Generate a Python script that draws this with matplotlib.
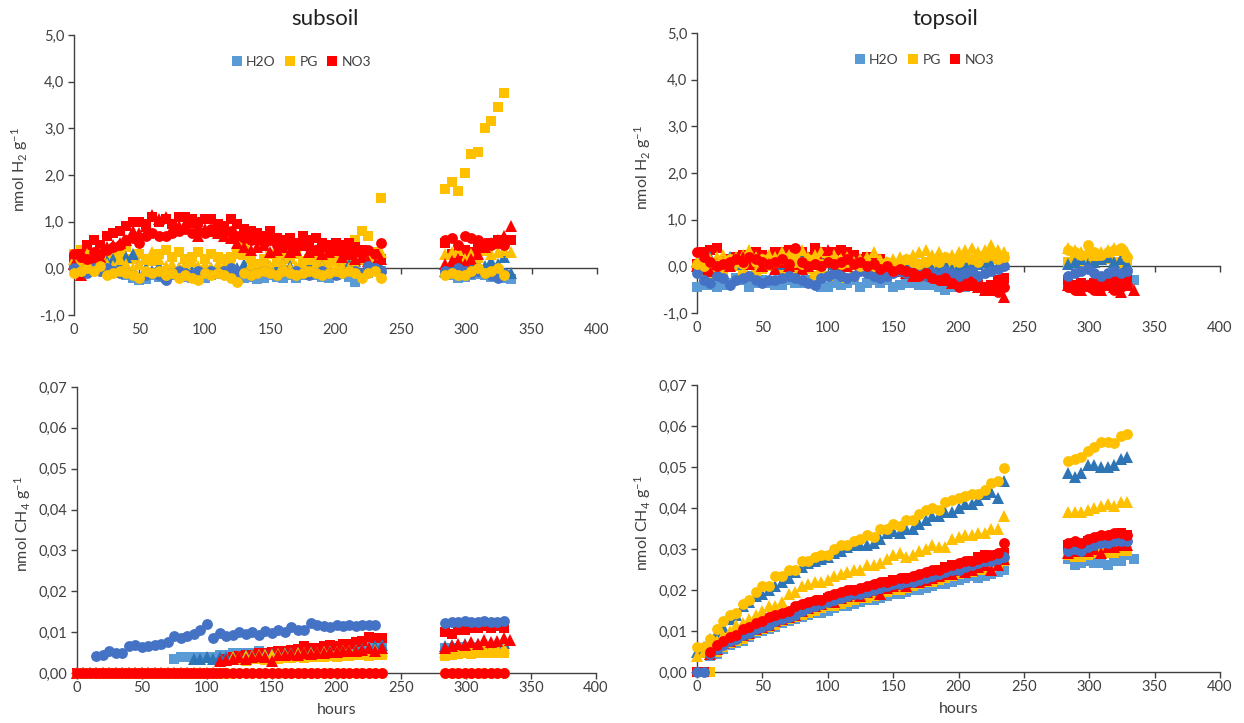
import numpy as np
import matplotlib.pyplot as plt
from matplotlib.ticker import FuncFormatter

N = None

# sampling times (h): first run 0-235 h, second run 284-334 h
hours = [0, 5, 10, 15, 20, 25, 30, 35, 40, 45, 50, 55,
         60, 65, 70, 75, 80, 85, 90, 95, 100, 105, 110, 115,
         120, 125, 130, 135, 140, 145, 150, 155, 160, 165, 170, 175,
         180, 185, 190, 195, 200, 205, 210, 215, 220, 225, 230, 235,
         284, 289, 294, 299, 304, 309, 314, 319, 324, 329, 334]

x_ticks = [0, 50, 100, 150, 200, 250, 300, 350, 400]
h2_ticks = [-1, 0, 1, 2, 3, 4, 5]
ch4_ticks = [0, 0.01, 0.02, 0.03, 0.04, 0.05, 0.06, 0.07]
treatments = ["H2O", "PG", "NO3"]

# ---- subsoil, H2 (nmol H2 g-1) ----
sub_h2_h2o_sq = [0.05, 0.0, -0.05, 0.0, 0.05, -0.05, -0.1, -0.1, -0.15, -0.2, -0.25, -0.22,
                 -0.15, -0.18, -0.2, -0.15, -0.12, -0.18, -0.2, -0.15, -0.2, -0.15, -0.1, -0.12,
                 -0.1, -0.15, -0.2, -0.18, -0.22, -0.2, -0.15, -0.18, -0.2, -0.15, -0.2, -0.15,
                 -0.12, -0.15, -0.18, -0.2, -0.15, -0.12, -0.18, -0.3, -0.15, -0.1, -0.05, -0.05,
                 -0.1, -0.15, -0.2, -0.18, -0.15, -0.12, -0.15, -0.18, -0.15, -0.2, -0.22]
sub_h2_pg_sq = [0.3, 0.4, 0.3, 0.2, 0.3, 0.35, 0.25, 0.3, 0.45, 0.2, 0.3, 0.2,
                0.15, 0.3, 0.4, 0.25, 0.35, 0.2, 0.25, 0.35, 0.2, 0.3, 0.25, 0.2,
                0.25, 0.3, 0.45, 0.2, 0.1, 0.2, 0.3, 0.15, 0.25, 0.2, 0.3, 0.15,
                0.2, 0.25, 0.1, 0.2, 0.15, 0.1, 0.2, 0.6, 0.8, 0.7, 0.35, 1.5,
                1.7, 1.85, 1.65, 2.05, 2.45, 2.5, 3.0, 3.15, 3.45, 3.75, N]
sub_h2_no3_sq = [0.2, 0.3, 0.5, 0.6, 0.5, 0.7, 0.75, 0.8, 0.9, 1.0, 1.0, 0.95,
                 1.1, 1.0, 1.05, 0.95, 1.1, 1.1, 1.05, 1.0, 1.05, 1.05, 0.95, 0.9,
                 1.05, 0.95, 0.85, 0.8, 0.75, 0.7, 0.8, 0.65, 0.6, 0.65, 0.55, 0.7,
                 0.6, 0.65, 0.55, 0.5, 0.55, 0.5, 0.55, 0.45, 0.4, 0.35, 0.3, 0.2,
                 0.55, 0.3, 0.25, 0.4, 0.35, 0.45, 0.5, 0.55, 0.6, 0.55, 0.6]
sub_h2_h2o_tri = [0.1, 0.0, 0.05, 0.0, 0.1, 0.15, 0.2, 0.1, 0.25, 0.3, 0.1, 0.0,
                  -0.05, 0.05, 0.0, -0.05, 0.0, 0.05, -0.05, 0.0, 0.05, 0.0, -0.05, 0.0,
                  0.05, 0.0, 0.1, 0.05, -0.05, 0.0, 0.05, 0.0, 0.1, 0.05, 0.0, 0.05,
                  0.1, 0.0, 0.05, 0.0, -0.05, 0.05, 0.1, 0.15, 0.2, 0.1, 0.05, 0.0,
                  -0.05, 0.0, 0.1, 0.05, 0.15, 0.1, 0.05, 0.15, 0.1, 0.25, -0.1]
sub_h2_pg_tri = [0.2, 0.1, 0.3, 0.25, 0.3, 0.1, 0.05, 0.2, 0.1, 0.0, 0.1, 0.2,
                 0.35, 0.2, 0.05, 0.1, 0.0, 0.1, 0.15, 0.05, 0.1, 0.0, 0.1, 0.05,
                 0.15, 0.5, 0.3, 0.1, 0.0, 0.1, 0.05, 0.15, 0.1, 0.0, 0.05, 0.1,
                 0.2, 0.1, 0.05, 0.1, 0.0, 0.05, 0.0, 0.1, 0.2, 0.25, 0.3, 0.35,
                 0.3, 0.35, 0.4, 0.2, 0.3, 0.25, 0.4, 0.3, 0.35, 0.4, 0.35]
sub_h2_no3_tri = [0.1, -0.15, 0.1, 0.2, 0.25, 0.45, 0.5, 0.55, 0.6, 0.8, 0.75, 0.9,
                  1.15, 1.05, 1.1, 0.85, 0.9, 0.95, 1.0, 0.7, 0.85, 0.8, 0.75, 0.7,
                  0.65, 0.55, 0.45, 0.4, 0.45, 0.5, 0.35, 0.4, 0.45, 0.35, 0.4, 0.5,
                  0.35, 0.4, 0.3, 0.35, 0.4, 0.25, 0.3, 0.2, 0.25, 0.15, 0.1, 0.2,
                  0.1, 0.15, 0.2, 0.1, 0.2, 0.3, 0.45, 0.55, 0.6, 0.7, 0.9]
sub_h2_h2o_circ = [0.0, -0.05, -0.1, 0.0, -0.05, 0.0, -0.05, -0.1, -0.1, -0.15, -0.2, -0.15,
                   -0.1, -0.15, -0.25, -0.1, -0.05, -0.1, -0.15, -0.05, -0.1, -0.05, -0.1, -0.05,
                   0.0, -0.05, -0.1, -0.15, -0.1, -0.05, -0.1, -0.15, -0.05, -0.1, -0.05, -0.1,
                   -0.15, -0.1, -0.05, -0.1, -0.15, -0.1, -0.05, -0.05, -0.1, 0.05, 0.0, -0.05,
                   -0.05, -0.1, 0.0, -0.05, -0.1, -0.05, -0.1, -0.15, -0.2, -0.1, N]
sub_h2_pg_circ = [-0.1, -0.05, 0.0, -0.05, 0.05, -0.15, -0.1, -0.05, -0.1, -0.15, -0.2, -0.05,
                  -0.1, -0.05, -0.15, -0.1, -0.2, -0.15, -0.2, -0.25, -0.1, -0.15, -0.1, -0.15,
                  -0.2, -0.3, -0.1, -0.15, -0.1, -0.05, -0.1, -0.15, -0.05, -0.1, -0.15, -0.1,
                  -0.05, -0.1, -0.15, -0.1, -0.05, -0.1, -0.05, -0.1, -0.2, -0.1, -0.05, -0.2,
                  -0.15, -0.1, -0.15, -0.15, -0.05, 0.0, -0.1, -0.05, 0.0, -0.15, N]
sub_h2_no3_circ = [0.3, 0.25, 0.2, 0.35, 0.3, 0.4, 0.45, 0.5, 0.6, 0.65, 0.55, 0.7,
                   0.75, 0.7, 0.7, 0.75, 0.8, 0.85, 0.75, 0.8, 0.75, 0.85, 0.8, 0.75,
                   0.8, 0.7, 0.65, 0.6, 0.6, 0.55, 0.6, 0.5, 0.55, 0.5, 0.45, 0.5,
                   0.45, 0.4, 0.45, 0.4, 0.45, 0.35, 0.4, 0.35, 0.3, 0.4, 0.3, 0.55,
                   0.6, 0.65, 0.5, 0.7, 0.65, 0.6, 0.55, 0.5, 0.55, 0.5, N]

# ---- topsoil, H2 ----
top_h2_h2o_sq = [-0.45, -0.4, -0.4, -0.45, -0.4, -0.35, -0.25, -0.3, -0.45, -0.35, -0.3, -0.35,
                 -0.4, -0.4, -0.3, -0.35, -0.35, -0.3, -0.35, -0.45, -0.45, -0.35, -0.4, -0.35,
                 -0.3, -0.45, -0.35, -0.3, -0.35, -0.3, -0.45, -0.4, -0.35, -0.35, -0.4, -0.4,
                 -0.4, -0.45, -0.5, -0.45, -0.4, -0.45, -0.4, -0.45, -0.5, -0.45, -0.4, -0.4,
                 -0.35, -0.4, -0.35, -0.4, -0.35, -0.4, -0.35, -0.3, -0.35, -0.3, -0.3]
top_h2_pg_sq = [0.0, -0.1, -0.2, -0.05, -0.1, 0.05, 0.0, -0.1, -0.2, -0.1, -0.05, 0.0,
                0.1, -0.05, -0.2, -0.1, 0.05, -0.05, -0.2, -0.15, -0.2, -0.1, -0.05, -0.25,
                -0.2, -0.05, 0.0, -0.1, 0.0, 0.05, 0.0, -0.05, 0.1, 0.05, 0.0, 0.1,
                0.15, 0.05, 0.1, 0.0, 0.05, 0.15, 0.1, 0.05, 0.1, 0.15, 0.2, 0.2,
                0.1, 0.2, 0.0, 0.15, 0.1, 0.2, 0.15, 0.1, 0.0, 0.1, N]
top_h2_no3_sq = [0.05, 0.3, 0.35, 0.4, 0.1, 0.15, 0.2, 0.25, 0.2, 0.3, 0.25, 0.2,
                 0.3, 0.3, 0.35, 0.25, 0.3, 0.2, 0.4, 0.3, 0.2, 0.3, 0.35, 0.3,
                 0.25, 0.15, 0.2, 0.1, 0.15, 0.05, 0.0, 0.05, -0.05, -0.1, -0.15, -0.1,
                 -0.2, -0.15, -0.25, -0.2, -0.3, -0.35, -0.3, -0.4, -0.45, -0.4, -0.3, -0.25,
                 -0.3, -0.4, -0.35, -0.45, -0.35, -0.3, -0.35, -0.3, -0.25, -0.25, N]
top_h2_h2o_tri = [0.1, 0.15, 0.2, 0.1, 0.15, 0.2, 0.1, 0.05, 0.1, 0.15, 0.0, 0.1,
                  0.15, 0.05, 0.1, 0.15, 0.2, 0.1, 0.15, 0.25, 0.1, 0.05, 0.0, 0.05,
                  0.1, 0.05, -0.05, 0.0, -0.05, -0.1, -0.05, 0.0, 0.05, 0.0, 0.05, 0.0,
                  -0.05, 0.0, 0.05, -0.05, 0.0, 0.05, 0.0, 0.05, 0.1, 0.05, 0.0, 0.05,
                  0.05, 0.1, 0.15, 0.05, 0.1, 0.15, 0.2, 0.1, 0.15, 0.05, N]
top_h2_pg_tri = [0.1, 0.05, 0.15, 0.2, 0.25, 0.15, 0.2, 0.25, 0.35, 0.2, 0.15, 0.25,
                 0.2, 0.3, 0.25, 0.3, 0.35, 0.2, 0.25, 0.3, 0.2, 0.25, 0.15, 0.2,
                 0.1, 0.15, 0.2, 0.3, 0.15, 0.1, 0.15, 0.2, 0.15, 0.25, 0.3, 0.35,
                 0.25, 0.3, 0.2, 0.25, 0.3, 0.35, 0.4, 0.3, 0.35, 0.45, 0.35, 0.3,
                 0.4, 0.35, 0.3, 0.35, 0.25, 0.3, 0.35, 0.4, 0.35, 0.3, N]
top_h2_no3_tri = [0.0, -0.05, -0.1, 0.05, 0.1, 0.0, 0.15, 0.2, 0.05, 0.1, 0.0, 0.05,
                  -0.05, 0.1, 0.0, 0.05, -0.05, 0.0, 0.05, 0.1, 0.35, 0.1, 0.05, 0.0,
                  0.05, 0.0, -0.05, 0.0, -0.05, -0.1, -0.05, -0.1, -0.15, -0.2, -0.1, -0.15,
                  -0.2, -0.25, -0.3, -0.35, -0.3, -0.35, -0.4, -0.45, -0.5, -0.5, -0.45, -0.65,
                  -0.4, -0.45, -0.5, -0.4, -0.45, -0.5, -0.4, -0.45, -0.55, -0.4, -0.5]
top_h2_h2o_circ = [-0.15, -0.3, -0.35, -0.2, -0.25, -0.4, -0.3, -0.25, -0.2, -0.3, -0.35, -0.3,
                   -0.3, -0.25, -0.2, -0.25, -0.3, -0.35, -0.4, -0.25, -0.2, -0.15, -0.2, -0.25,
                   -0.2, -0.1, -0.15, -0.2, -0.25, -0.2, -0.15, -0.1, -0.15, -0.1, -0.15, -0.2,
                   -0.15, -0.2, -0.1, -0.15, -0.2, -0.15, -0.1, -0.2, -0.15, -0.1, -0.05, 0.0,
                   -0.2, -0.15, -0.1, -0.05, -0.15, -0.2, -0.15, -0.1, -0.15, -0.1, N]
top_h2_pg_circ = [0.05, 0.0, 0.1, 0.05, 0.1, 0.15, 0.1, 0.05, 0.2, 0.1, 0.15, 0.05,
                  0.1, 0.15, 0.2, 0.1, 0.05, 0.15, 0.1, 0.05, 0.1, 0.15, 0.05, 0.1,
                  0.05, 0.0, 0.05, 0.0, 0.05, 0.1, 0.05, 0.1, 0.15, 0.1, 0.05, 0.1,
                  0.15, 0.1, 0.2, 0.15, 0.1, 0.2, 0.15, 0.1, 0.2, 0.25, 0.15, 0.2,
                  0.35, 0.3, 0.25, 0.45, 0.3, 0.25, 0.3, 0.35, 0.4, 0.2, N]
top_h2_no3_circ = [0.3, 0.2, 0.1, 0.0, 0.05, 0.1, 0.15, 0.1, 0.2, 0.15, 0.1, 0.05,
                   0.1, 0.15, 0.05, 0.4, 0.1, 0.0, 0.05, 0.0, 0.1, 0.05, 0.1, 0.15,
                   0.05, 0.1, 0.0, 0.05, -0.05, 0.0, -0.1, -0.05, -0.1, -0.15, -0.2, -0.15,
                   -0.25, -0.3, -0.25, -0.35, -0.45, -0.4, -0.35, -0.45, -0.5, -0.4, -0.55, -0.45,
                   -0.45, -0.5, -0.45, -0.4, -0.5, -0.45, -0.4, -0.5, -0.45, -0.4, N]

# ---- subsoil, CH4 (nmol CH4 g-1) ----
sub_ch4_h2o_sq = [0, 0, 0, 0, 0, 0, 0, 0, 0, 0, 0, 0,
                  0, 0, 0, 0.0035, 0.004, 0.004, 0.004, 0.0038, 0.0038, 0.004, 0.0045, 0.0045,
                  0.0048, 0.005, 0.005, 0.005, 0.0055, 0.005, 0.0052, 0.0054, 0.0055, 0.0056, 0.0055, 0.0058,
                  0.0058, 0.006, 0.0058, 0.006, 0.0062, 0.006, 0.0062, 0.0064, 0.0063, 0.0065, 0.0064, 0.0065,
                  0.006, 0.0062, 0.006, 0.0063, 0.0062, 0.0064, 0.0063, 0.0062, 0.0064, 0.0063, N]
sub_ch4_pg_sq = [0, 0, 0, 0, 0, 0, 0, 0, 0, 0, 0, 0,
                 0, 0, 0, 0, 0, 0, 0, 0, 0, 0, 0, 0.003,
                 0.0032, 0.0033, 0.003, 0.0034, 0.0035, 0.0033, 0.0036, 0.0035, 0.0037, 0.0036, 0.0038, 0.0037,
                 0.0038, 0.004, 0.0039, 0.0041, 0.004, 0.0042, 0.0041, 0.0043, 0.0044, 0.0042, 0.0045, 0.0044,
                 0.0042, 0.0045, 0.0047, 0.0048, 0.0046, 0.0048, 0.005, 0.0049, 0.005, 0.0048, N]
sub_ch4_no3_sq = [0, 0, 0, 0, 0, 0, 0, 0, 0, 0, 0, 0,
                  0, 0, 0, 0, 0, 0, 0, 0, 0, 0, 0, 0.0035,
                  0.004, 0.0042, 0.0045, 0.0045, 0.0048, 0.005, 0.0052, 0.0055, 0.0055, 0.0056, 0.0058, 0.0065,
                  0.006, 0.0062, 0.0065, 0.0068, 0.0065, 0.007, 0.0072, 0.0075, 0.0078, 0.0088, 0.0085, 0.0085,
                  0.01, 0.0095, 0.0105, 0.0105, 0.011, 0.011, 0.0115, 0.011, 0.0115, 0.011, N]
sub_ch4_h2o_tri = [0, 0, 0, 0, 0, 0, 0, 0, 0, 0, 0, 0,
                   0, 0, 0, 0, 0, 0, 0.0035, 0.0035, 0.004, 0.0035, 0.0038, 0.004,
                   0.0042, 0.004, 0.0044, 0.0045, 0.0044, 0.0046, 0.0047, 0.0046, 0.0048, 0.005, 0.0049, 0.005,
                   0.0051, 0.005, 0.0052, 0.0053, 0.0052, 0.0054, 0.0055, 0.0056, 0.0058, 0.0062, 0.0065, 0.0068,
                   0.0065, 0.0068, 0.0067, 0.007, 0.0072, 0.0071, 0.0073, 0.0072, 0.0074, 0.0073, N]
sub_ch4_pg_tri = [0, 0, 0, 0, 0, 0, 0, 0, 0, 0, 0, 0,
                  0, 0, 0, 0, 0, 0, 0, 0, 0, 0, 0, 0,
                  0.0038, 0.004, 0.0042, 0.0041, 0.0043, 0.0045, 0.0044, 0.0046, 0.0047, 0.0046, 0.0048, 0.0049,
                  0.005, 0.0049, 0.0051, 0.0052, 0.0051, 0.0053, 0.0054, 0.0053, 0.0055, 0.0054, 0.0056, 0.0055,
                  0.0052, 0.0055, 0.0056, 0.0058, 0.0057, 0.0059, 0.006, 0.0059, 0.0061, 0.006, N]
sub_ch4_no3_tri = [0, 0, 0, 0, 0, 0, 0, 0, 0, 0, 0, 0,
                   0, 0, 0, 0, 0, 0, 0, 0, 0, 0, 0.003, 0.0032,
                   0.0035, 0.0038, 0.0035, 0.004, 0.0042, 0.004, 0.003, 0.0045, 0.0043, 0.0046, 0.0045, 0.0048,
                   0.0047, 0.005, 0.0049, 0.0052, 0.0051, 0.0053, 0.0055, 0.0054, 0.0056, 0.006, 0.0055, 0.006,
                   0.006, 0.0065, 0.007, 0.0068, 0.0075, 0.007, 0.008, 0.0075, 0.0078, 0.0085, 0.008]
sub_ch4_h2o_circ = [0, 0, 0, 0.0042, 0.0045, 0.0055, 0.005, 0.005, 0.0067, 0.0068, 0.0063, 0.0066,
                    0.0068, 0.0072, 0.0075, 0.009, 0.0086, 0.009, 0.0096, 0.0105, 0.012, 0.0086, 0.0098, 0.009,
                    0.0094, 0.01, 0.0096, 0.01, 0.0093, 0.0102, 0.0098, 0.0105, 0.01, 0.0112, 0.0105, 0.0105,
                    0.0122, 0.0118, 0.0115, 0.0112, 0.0118, 0.0115, 0.0118, 0.0116, 0.0118, 0.0117, 0.0118, N,
                    0.0122, 0.0125, 0.0125, 0.0128, 0.0125, 0.0125, 0.0128, 0.0125, 0.0125, 0.0128, N]
sub_ch4_pg_circ = [0, 0, 0, 0, 0, 0, 0, 0, 0, 0, 0, 0,
                   0, 0, 0, 0, 0, 0, 0, 0, 0, 0, 0, 0,
                   0, 0, 0, 0, 0, 0, 0, 0, 0, 0, 0, 0,
                   0, 0, 0, 0, 0, 0, 0, 0, 0, 0, 0, 0,
                   0, 0, 0, 0, 0, 0, 0, 0, 0, 0, N]
sub_ch4_no3_circ = [0, 0, 0, 0, 0, 0, 0, 0, 0, 0, 0, 0,
                    0, 0, 0, 0, 0, 0, 0, 0, 0, 0, 0, 0,
                    0, 0, 0, 0, 0, 0, 0, 0, 0, 0, 0, 0,
                    0, 0, 0, 0, 0, 0, 0, 0, 0, 0, 0, 0,
                    0, 0, 0, 0, 0, 0, 0, 0, 0, 0, N]

# ---- topsoil, CH4 ----
top_ch4_h2o_sq = [0.0, 0.0, 0.004, 0.0045, 0.0055, 0.0065, 0.007, 0.0075, 0.0085, 0.0095, 0.01, 0.0105,
                  0.011, 0.012, 0.0125, 0.013, 0.0135, 0.014, 0.0145, 0.0145, 0.015, 0.0155, 0.016, 0.016,
                  0.0165, 0.017, 0.0175, 0.0175, 0.018, 0.0185, 0.019, 0.019, 0.0195, 0.02, 0.02, 0.0205,
                  0.021, 0.0215, 0.0215, 0.022, 0.0225, 0.023, 0.0235, 0.023, 0.0235, 0.024, 0.0245, 0.025,
                  0.0275, 0.026, 0.0265, 0.027, 0.0265, 0.0265, 0.026, 0.027, 0.027, 0.0285, 0.0275]
top_ch4_pg_sq = [0.0, 0.0, 0.0, 0.005, 0.006, 0.007, 0.0075, 0.008, 0.009, 0.01, 0.0105, 0.011,
                 0.0115, 0.0125, 0.013, 0.0135, 0.014, 0.0145, 0.015, 0.0155, 0.016, 0.016, 0.0165, 0.017,
                 0.0175, 0.018, 0.018, 0.0185, 0.019, 0.0195, 0.02, 0.02, 0.0205, 0.021, 0.0215, 0.022,
                 0.022, 0.0225, 0.023, 0.0235, 0.024, 0.0245, 0.0245, 0.025, 0.025, 0.0255, 0.026, 0.027,
                 0.0285, 0.028, 0.028, 0.0285, 0.029, 0.029, 0.029, 0.029, 0.0295, 0.0295, N]
top_ch4_no3_sq = [0.0, 0.0, 0.005, 0.006, 0.0075, 0.008, 0.009, 0.0095, 0.0105, 0.011, 0.012, 0.0125,
                  0.0135, 0.014, 0.0145, 0.015, 0.016, 0.0165, 0.017, 0.0175, 0.018, 0.0185, 0.019, 0.0195,
                  0.02, 0.02, 0.0205, 0.021, 0.0215, 0.022, 0.0225, 0.0225, 0.023, 0.023, 0.0235, 0.024,
                  0.0245, 0.025, 0.0255, 0.026, 0.026, 0.0265, 0.027, 0.028, 0.0285, 0.028, 0.0285, 0.029,
                  0.031, 0.0315, 0.031, 0.032, 0.0325, 0.033, 0.033, 0.0335, 0.034, 0.0335, N]
top_ch4_h2o_tri = [0.005, 0.006, 0.008, 0.0095, 0.011, 0.013, 0.014, 0.016, 0.017, 0.0185, 0.019, 0.02,
                   0.021, 0.022, 0.023, 0.0245, 0.0255, 0.0265, 0.027, 0.0275, 0.028, 0.029, 0.0295, 0.0305,
                   0.031, 0.031, 0.031, 0.0315, 0.0325, 0.034, 0.0345, 0.034, 0.035, 0.035, 0.036, 0.037,
                   0.038, 0.038, 0.039, 0.039, 0.04, 0.041, 0.041, 0.042, 0.0435, 0.044, 0.0425, 0.0465,
                   0.0485, 0.0475, 0.0485, 0.0505, 0.0505, 0.05, 0.05, 0.0505, 0.052, 0.0525, N]
top_ch4_pg_tri = [0.004, 0.005, 0.006, 0.0075, 0.009, 0.01, 0.0115, 0.012, 0.013, 0.014, 0.015, 0.016,
                  0.016, 0.017, 0.019, 0.0195, 0.021, 0.0215, 0.022, 0.022, 0.0225, 0.0235, 0.024, 0.0245,
                  0.025, 0.025, 0.026, 0.026, 0.0265, 0.0275, 0.0285, 0.029, 0.028, 0.0285, 0.0295, 0.03,
                  0.031, 0.0305, 0.0305, 0.0325, 0.033, 0.0335, 0.0335, 0.034, 0.034, 0.035, 0.035, 0.038,
                  0.039, 0.039, 0.039, 0.0395, 0.04, 0.0405, 0.041, 0.0405, 0.0415, 0.0415, N]
top_ch4_no3_tri = [N, N, 0.0045, 0.0055, 0.007, 0.0075, 0.0085, 0.009, 0.0095, 0.0105, 0.011, 0.0115,
                   0.0125, 0.013, 0.0135, 0.014, 0.015, 0.0155, 0.016, 0.0165, 0.0175, 0.017, 0.018, 0.0185,
                   0.019, 0.0185, 0.0195, 0.02, 0.019, 0.0205, 0.021, 0.0215, 0.021, 0.022, 0.022, 0.0225,
                   0.023, 0.0235, 0.024, 0.024, 0.025, 0.0245, 0.025, 0.0255, 0.026, 0.025, 0.026, 0.0275,
                   0.029, 0.0295, 0.0295, 0.0295, 0.03, 0.029, 0.0305, 0.0305, 0.031, 0.031, N]
top_ch4_h2o_circ = [0.0, 0.0, 0.0045, 0.0055, 0.0065, 0.0075, 0.008, 0.009, 0.0095, 0.0105, 0.011, 0.0115,
                    0.0125, 0.013, 0.0135, 0.014, 0.015, 0.0155, 0.016, 0.0165, 0.017, 0.0175, 0.018, 0.0185,
                    0.019, 0.019, 0.0195, 0.02, 0.0205, 0.021, 0.0215, 0.0215, 0.022, 0.022, 0.0225, 0.023,
                    0.0235, 0.024, 0.0245, 0.025, 0.025, 0.0255, 0.026, 0.0265, 0.027, 0.027, 0.0275, 0.028,
                    0.0295, 0.03, 0.0295, 0.0305, 0.031, 0.0315, 0.0315, 0.032, 0.032, 0.032, N]
top_ch4_pg_circ = [0.006, 0.006, 0.008, 0.0105, 0.0125, 0.014, 0.0145, 0.0165, 0.0175, 0.0195, 0.021, 0.021,
                   0.0235, 0.0235, 0.025, 0.025, 0.027, 0.027, 0.028, 0.0285, 0.0285, 0.03, 0.031, 0.031,
                   0.032, 0.0325, 0.0335, 0.033, 0.035, 0.035, 0.036, 0.0355, 0.037, 0.037, 0.0385, 0.0395,
                   0.04, 0.0395, 0.0415, 0.042, 0.0425, 0.043, 0.0435, 0.0435, 0.0445, 0.046, 0.0465, 0.0498,
                   0.0515, 0.052, 0.0525, 0.054, 0.055, 0.056, 0.0562, 0.0558, 0.0575, 0.058, N]
top_ch4_no3_circ = [N, N, 0.005, 0.0065, 0.0075, 0.0085, 0.009, 0.0105, 0.011, 0.012, 0.0125, 0.0135,
                    0.014, 0.0145, 0.015, 0.016, 0.0165, 0.017, 0.0175, 0.0175, 0.0185, 0.019, 0.0195, 0.02,
                    0.02, 0.0205, 0.021, 0.0215, 0.022, 0.022, 0.0225, 0.023, 0.023, 0.0235, 0.024, 0.0245,
                    0.025, 0.025, 0.0255, 0.026, 0.0265, 0.027, 0.027, 0.0275, 0.028, 0.0285, 0.029, 0.0315,
                    0.0315, 0.032, 0.0315, 0.0325, 0.033, 0.0335, 0.0335, 0.034, 0.034, 0.0335, N]

# drawing order: squares, triangles, circles; each H2O, PG, NO3
order = [("H2O", "s"), ("PG", "s"), ("NO3", "s"),
         ("H2O", "^"), ("PG", "^"), ("NO3", "^"),
         ("H2O", "o"), ("PG", "o"), ("NO3", "o")]
colors = {("H2O", "s"): "#5B9BD5", ("H2O", "^"): "#2E75B6", ("H2O", "o"): "#4472C4",
          "PG": "#FFC000", "NO3": "#FF0000"}
msize = {"s": 7.2, "^": 8.6, "o": 7.8}

plt.rcParams['font.family'] = ['Lato', 'DejaVu Sans']
plt.rcParams['mathtext.default'] = 'regular'
AXC = "#404040"


def comma(dec):
    return FuncFormatter(lambda v, p: f"{v:.{dec}f}".replace(".", ","))


def draw_panel(ax, series, ylim, yticks, dec, ylabel, zero_axis, legend):
    handles = {}
    for (treat, mk), vals in zip(order, series):
        col = colors.get((treat, mk), colors.get(treat))
        y = np.array(vals, dtype=float)
        ln, = ax.plot(hours, y, ls="none", marker=mk, ms=msize[mk], mew=0,
                      color=col, clip_on=False, zorder=3)
        if mk == "s":
            handles[treat] = ln

    ax.set_xlim(0, 400)
    ax.set_ylim(*ylim)
    ax.set_xticks(x_ticks)
    ax.set_yticks(yticks)
    ax.yaxis.set_major_formatter(comma(dec))
    for s in ("top", "right"):
        ax.spines[s].set_visible(False)
    for s in ("left", "bottom"):
        ax.spines[s].set_color(AXC)
        ax.spines[s].set_linewidth(1.0)
    ax.tick_params(axis="both", direction="out", length=4, width=1.0, color=AXC,
                   labelsize=10.5, labelcolor="#404040")
    ax.tick_params(axis="y", pad=3)
    if zero_axis:
        ax.spines["bottom"].set_position(("data", 0))
        ax.tick_params(axis="x", pad=35)
    else:
        ax.tick_params(axis="x", pad=2)

    ax.set_ylabel(ylabel, fontsize=11.5, color="#404040")
    ax.yaxis.set_label_coords(-0.085, 0.52)

    if legend:
        ax.legend([handles[t] for t in treatments], treatments, loc="center",
                  bbox_to_anchor=(0.435, 0.905), ncol=3, frameon=False,
                  handlelength=0.7, handletextpad=0.3, columnspacing=0.7,
                  fontsize=10, labelcolor="#404040")


fig = plt.figure(figsize=(12.44, 7.23), dpi=100)
W, H = 1244, 723
ax_tl = fig.add_axes([74 / W, 1 - 315 / H, 523 / W, 280 / H])
ax_tr = fig.add_axes([697 / W, 1 - 313 / H, 523 / W, 280 / H])
ax_bl = fig.add_axes([77 / W, 1 - 673 / H, 519 / W, 286 / H])
ax_br = fig.add_axes([697 / W, 1 - 672 / H, 523 / W, 287 / H])

h2_label = "nmol H$_{2}$ g$^{-1}$"
ch4_label = "nmol CH$_{4}$ g$^{-1}$"

draw_panel(ax_tl, [sub_h2_h2o_sq, sub_h2_pg_sq, sub_h2_no3_sq,
                   sub_h2_h2o_tri, sub_h2_pg_tri, sub_h2_no3_tri,
                   sub_h2_h2o_circ, sub_h2_pg_circ, sub_h2_no3_circ],
           (-1, 5), h2_ticks, 1, h2_label, True, True)
draw_panel(ax_tr, [top_h2_h2o_sq, top_h2_pg_sq, top_h2_no3_sq,
                   top_h2_h2o_tri, top_h2_pg_tri, top_h2_no3_tri,
                   top_h2_h2o_circ, top_h2_pg_circ, top_h2_no3_circ],
           (-1, 5), h2_ticks, 1, h2_label, True, True)
draw_panel(ax_bl, [sub_ch4_h2o_sq, sub_ch4_pg_sq, sub_ch4_no3_sq,
                   sub_ch4_h2o_tri, sub_ch4_pg_tri, sub_ch4_no3_tri,
                   sub_ch4_h2o_circ, sub_ch4_pg_circ, sub_ch4_no3_circ],
           (0, 0.07), ch4_ticks, 2, ch4_label, False, False)
draw_panel(ax_br, [top_ch4_h2o_sq, top_ch4_pg_sq, top_ch4_no3_sq,
                   top_ch4_h2o_tri, top_ch4_pg_tri, top_ch4_no3_tri,
                   top_ch4_h2o_circ, top_ch4_pg_circ, top_ch4_no3_circ],
           (0, 0.07), ch4_ticks, 2, ch4_label, False, False)

for ax in (ax_bl, ax_br):
    ax.set_xlabel("hours", fontsize=11.5, color="#404040")
    ax.xaxis.set_label_coords(0.5, -0.105)

fig.text(325 / W, 1 - 19 / H, "subsoil", ha="center", va="center", fontsize=16, color="#202020")
fig.text(945 / W, 1 - 19 / H, "topsoil", ha="center", va="center", fontsize=16, color="#202020")

fig.savefig("out.png", dpi=100)
